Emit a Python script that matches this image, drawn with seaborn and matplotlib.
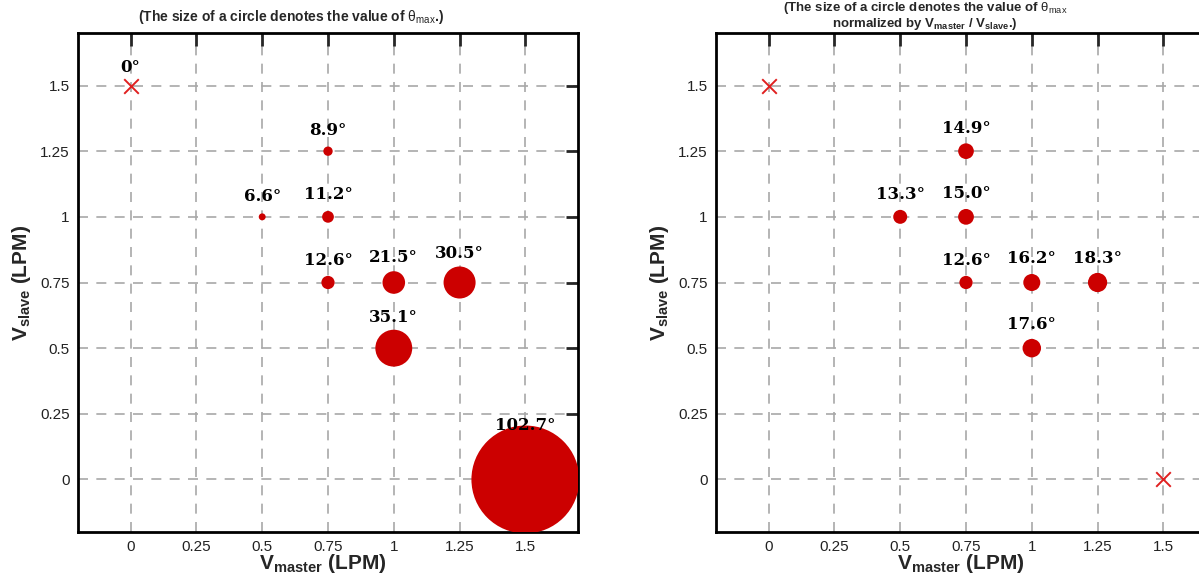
import numpy as np
import pandas as pd
import matplotlib
matplotlib.use("Agg")
import matplotlib.pyplot as plt
import seaborn as sns

sns.set_style("white")
plt.rcParams["font.family"] = ["Liberation Sans", "DejaVu Sans"]
plt.rcParams["mathtext.fontset"] = "custom"
plt.rcParams["mathtext.rm"] = "Liberation Sans"
plt.rcParams["mathtext.bf"] = "Liberation Sans:bold"
plt.rcParams["mathtext.it"] = "Liberation Sans:italic"

# left panel: theta_max
left_master = [0.5, 0.75, 0.75, 0.75, 1.0, 1.25, 1.0, 1.5]
left_slave = [1.0, 1.25, 1.0, 0.75, 0.75, 0.75, 0.5, 0.0]
left_theta = [6.6, 8.9, 11.2, 12.6, 21.5, 30.5, 35.1, 102.7]
left_x_master = [0.0]
left_x_slave = [1.5]
left_x_label = ["0°"]

# right panel: theta_max normalized by Vmaster/Vslave
right_master = [0.5, 0.75, 0.75, 0.75, 1.0, 1.25, 1.0]
right_slave = [1.0, 1.25, 1.0, 0.75, 0.75, 0.75, 0.5]
right_theta = [13.3, 14.9, 15.0, 12.6, 16.2, 18.3, 17.6]
right_x_master = [0.0, 1.5]
right_x_slave = [1.5, 0.0]

ticks = [0, 0.25, 0.5, 0.75, 1, 1.25, 1.5]
tick_labels = ["0", "0.25", "0.5", "0.75", "1", "1.25", "1.5"]

RED = "#cc0000"
K = 0.572  # marker area (pt^2) per theta^2


def panel(ax, master, slave, theta, xm, xs, xlabels):
    df = pd.DataFrame({"m": master, "s": slave, "t": theta})
    df["t2"] = df["t"] ** 2
    tmax = df["t2"].max()
    sns.scatterplot(data=df, x="m", y="s", size="t2", sizes=(0, K * tmax),
                    size_norm=(0, tmax), color=RED, linewidth=0,
                    legend=False, ax=ax, zorder=3)
    dx = pd.DataFrame({"m": xm, "s": xs})
    sns.scatterplot(data=dx, x="m", y="s", marker="x", s=110, color="#e02020",
                    linewidth=1.4, legend=False, ax=ax, zorder=3)
    for m, s, t in zip(master, slave, theta):
        ax.annotate(f"{t:.1f}°", (m, s), xytext=(0, (17.9 + 0.352 * t) * 0.72),
                    textcoords="offset points", ha="center", va="center",
                    family="DejaVu Serif", fontweight="bold", fontsize=12,
                    color="black", zorder=4)
    for m, s, lab in zip(xm, xs, xlabels):
        ax.annotate(lab, (m, s), xytext=(0, 17.9 * 0.72),
                    textcoords="offset points", ha="center", va="center",
                    family="DejaVu Serif", fontweight="bold", fontsize=12,
                    color="black", zorder=4)
    ax.set_xlim(-0.2, 1.7)
    ax.set_ylim(-0.2, 1.7)
    ax.set_xticks(ticks)
    ax.set_xticklabels(tick_labels)
    ax.set_yticks(ticks)
    ax.set_yticklabels(tick_labels)
    ax.tick_params(direction="in", length=9, width=2, top=True, right=True,
                   labelsize=11, labelcolor="#222222", pad=6)
    ax.grid(True, ls=(0, (6, 5)), color="#a8a8a8", lw=1.2)
    ax.set_axisbelow(True)
    for sp in ax.spines.values():
        sp.set_linewidth(2)
        sp.set_color("black")
    ax.set_xlabel(r"$\mathbf{V_{master}}$ (LPM)", fontsize=15, fontweight="bold")
    ax.set_ylabel(r"$\mathbf{V_{slave}}$ (LPM)", fontsize=15, fontweight="bold")


fig = plt.figure(figsize=(11.99, 5.77), dpi=100)
W, H = 1199, 577
ax1 = fig.add_axes([78 / W, 45 / H, 500 / W, 499 / H])
ax2 = fig.add_axes([716 / W, 45 / H, 500 / W, 499 / H])

panel(ax1, left_master, left_slave, left_theta, left_x_master, left_x_slave, left_x_label)
panel(ax2, right_master, right_slave, right_theta, right_x_master, right_x_slave, ["", ""])

for ax in (ax1, ax2):
    ax.xaxis.set_label_coords(0.49, -0.041)
    ax.yaxis.set_label_coords(-0.09, 0.5)

fig.text(291 / W, 1 - 17 / H, "(The size of a circle denotes the value of $\\mathrm{θ}_{\\mathrm{max}}$.)",
         ha="center", va="center", fontsize=10, fontweight="bold")
fig.text(925 / W, 1 - 16 / H,
         "(The size of a circle denotes the value of $\\mathrm{θ}_{\\mathrm{max}}$\n"
         "normalized by $\\mathbf{V_{master}}$ / $\\mathbf{V_{slave}}$.)",
         ha="center", va="center", fontsize=9.5, fontweight="bold", linespacing=0.95)

fig.savefig("out.png", dpi=100)
